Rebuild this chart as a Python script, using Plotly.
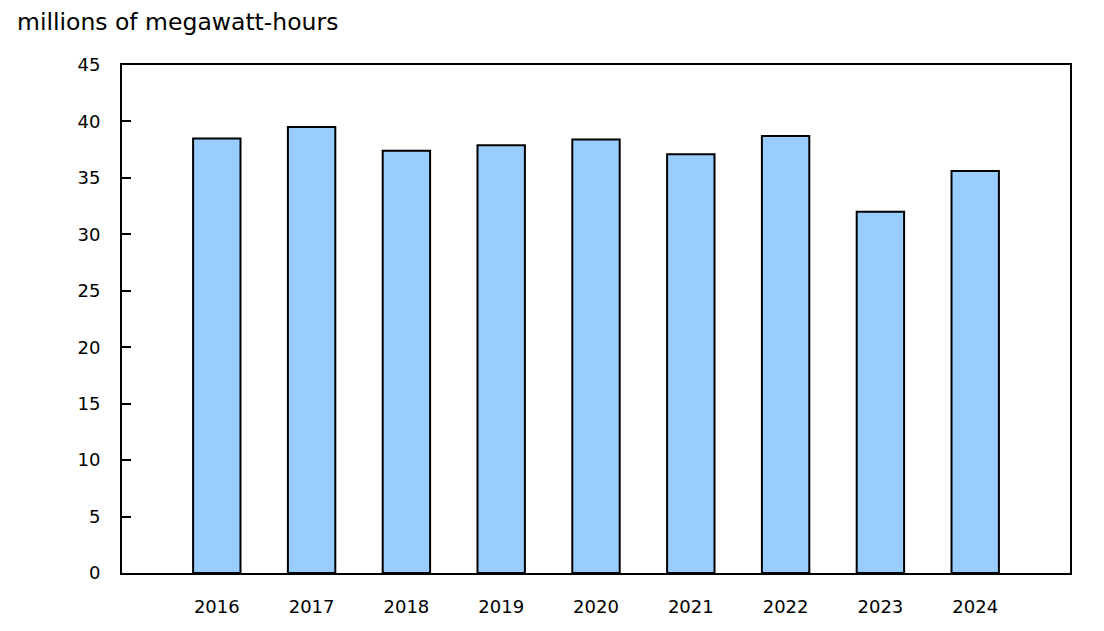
import plotly.graph_objects as go

years = ["2016", "2017", "2018", "2019", "2020", "2021", "2022", "2023", "2024"]
generation = [38.5, 39.5, 37.4, 37.9, 38.4, 37.1, 38.7, 32.0, 35.6]

fig = go.Figure()
fig.add_trace(go.Bar(
    x=years,
    y=generation,
    width=0.5,
    marker=dict(color="#99ccff", line=dict(color="black", width=2)),
))

fig.update_layout(
    width=1104,
    height=631,
    margin=dict(l=114, r=42, t=57, b=66),
    paper_bgcolor="white",
    plot_bgcolor="white",
    font=dict(family="Verdana, DejaVu Sans, sans-serif", size=18, color="black"),
    showlegend=False,
    annotations=[dict(
        text="millions of megawatt-hours", xref="paper", yref="paper",
        x=0, y=1.0, xanchor="left", yanchor="middle", xshift=-107, yshift=43,
        showarrow=False, font=dict(size=23.5),
    )],
)
fig.update_xaxes(
    type="category", range=[-1, 9], showline=True, linecolor="black", linewidth=2,
    mirror=True, ticks="", showgrid=False, ticklabelstandoff=16,
)
fig.update_yaxes(
    range=[0, 45], dtick=5, showline=True, linecolor="black", linewidth=2,
    mirror=True, ticks="inside", ticklen=9, tickcolor="black", tickwidth=2,
    showgrid=False, zeroline=False, ticklabelstandoff=16,
)

fig.write_html("out.html")
